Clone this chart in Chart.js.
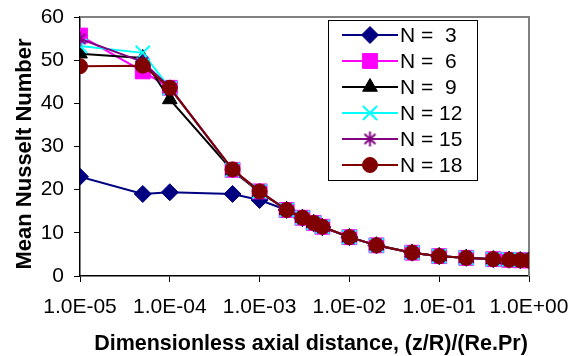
<!DOCTYPE html>
<html>
<head>
<meta charset="utf-8">
<script src="https://cdn.jsdelivr.net/npm/chart.js@4/dist/chart.umd.min.js"></script>
<style>
html,body{margin:0;padding:0;background:#fff;}
#wrap{width:569px;height:356px;position:relative;}
</style>
</head>
<body>
<div id="wrap"><canvas id="c" width="569" height="356"></canvas></div>
<script>
// ---- data ----
const xValues = [1e-5, 5e-5, 1e-4, 5e-4, 1e-3, 2e-3, 3e-3, 4e-3, 5e-3, 1e-2, 2e-2, 5e-2, 1e-1, 2e-1, 4e-1, 6e-1, 8e-1, 1];
const seriesLabels = ['N =  3', 'N =  6', 'N =  9', 'N = 12', 'N = 15', 'N = 18'];
const n3  = [23.0, 19.0, 19.4, 19.0, 17.6, 15.3, 13.4, 12.2, 11.3, 9.0, 7.1, 5.4, 4.6, 4.2, 3.9, 3.75, 3.65, 3.6];
const n6  = [55.7, 47.4, 43.6, 24.6, 19.6, 15.3, 13.5, 12.3, 11.4, 9.0, 7.1, 5.4, 4.6, 4.2, 3.9, 3.75, 3.65, 3.6];
const n9  = [51.5, 50.5, 40.9, 24.4, 19.4, 15.3, 13.5, 12.3, 11.4, 9.0, 7.1, 5.4, 4.6, 4.2, 3.9, 3.75, 3.65, 3.6];
const n12 = [53.3, 51.7, 43.5, 24.6, 19.6, 15.3, 13.5, 12.3, 11.4, 9.0, 7.1, 5.4, 4.6, 4.2, 3.9, 3.8, 3.75, 3.7];
const n15 = [54.9, 49.6, 43.7, 24.6, 19.6, 15.3, 13.5, 12.3, 11.4, 9.0, 7.1, 5.4, 4.6, 4.2, 3.9, 3.75, 3.65, 3.6];
const n18 = [48.6, 48.7, 43.6, 24.7, 19.6, 15.3, 13.5, 12.3, 11.4, 9.0, 7.1, 5.4, 4.6, 4.2, 3.9, 3.75, 3.65, 3.6];
const xTickValues = [1e-5, 1e-4, 1e-3, 1e-2, 1e-1, 1];
const xTickLabels = ['1.0E-05', '1.0E-04', '1.0E-03', '1.0E-02', '1.0E-01', '1.0E+00'];
const yTickValues = [0, 10, 20, 30, 40, 50, 60];
const xTitle = 'Dimensionless axial distance, (z/R)/(Re.Pr)';
const yTitle = 'Mean Nusselt Number';

const FONT = "'Liberation Sans', Arial, sans-serif";
const seriesValues = [n3, n6, n9, n12, n15, n18];
const colors = ['#000080', '#FF00FF', '#000000', '#00FFFF', '#800080', '#800000'];

// Excel-style asterisk marker (vertical bar + X)
function makeAsterisk(color) {
  const c = document.createElement('canvas');
  c.width = 17; c.height = 17;
  const g = c.getContext('2d');
  g.strokeStyle = color; g.lineWidth = 2; g.lineCap = 'butt';
  g.beginPath();
  g.moveTo(8.5, 1); g.lineTo(8.5, 16);
  g.moveTo(3, 3.5); g.lineTo(14, 13.5);
  g.moveTo(14, 3.5); g.lineTo(3, 13.5);
  g.stroke();
  return c;
}

const styles = ['rectRot', 'rect', 'triangle', 'crossRot', makeAsterisk('#800080'), 'circle'];
const radii = [8.5, 10.5, 8.5, 10, 8, 7.5];
const pbw = [1, 1, 1, 2, 2, 1];

const datasets = seriesValues.map((vals, i) => ({
  label: seriesLabels[i],
  data: vals.map((v, j) => ({x: xValues[j], y: v})),
  borderColor: colors[i],
  backgroundColor: colors[i],
  pointBackgroundColor: colors[i],
  pointBorderColor: colors[i],
  pointStyle: styles[i],
  pointRadius: radii[i],
  pointBorderWidth: pbw[i],
  borderWidth: 2,
  tension: 0,
  order: seriesValues.length - 1 - i
}));

const framePlugin = {
  id: 'frame',
  beforeDatasetsDraw(chart) {
    const {ctx, chartArea: a} = chart;
    ctx.save();
    ctx.strokeStyle = '#808080';
    ctx.lineWidth = 2;
    ctx.beginPath();
    ctx.moveTo(a.left, a.top);
    ctx.lineTo(a.right, a.top);
    ctx.lineTo(a.right, a.bottom);
    ctx.stroke();
    ctx.restore();
  }
};

const titlePlugin = {
  id: 'axisTitles',
  afterDraw(chart) {
    const ctx = chart.ctx;
    ctx.save();
    ctx.fillStyle = '#000';
    ctx.font = 'bold 21.5px ' + FONT;
    ctx.textAlign = 'center';
    ctx.textBaseline = 'alphabetic';
    ctx.fillText(xTitle, 311, 350);
    ctx.translate(31, 154);
    ctx.rotate(-Math.PI / 2);
    ctx.font = 'bold 22px ' + FONT;
    ctx.fillText(yTitle, 0, 0);
    ctx.restore();
  }
};

const legendPlugin = {
  id: 'boxLegend',
  afterDraw(chart) {
    const ctx = chart.ctx;
    const x0 = 328, y0 = 20, w = 149, h = 160;
    ctx.save();
    ctx.fillStyle = '#ffffff';
    ctx.fillRect(x0, y0, w, h);
    ctx.strokeStyle = '#000000';
    ctx.lineWidth = 1;
    ctx.strokeRect(x0 + 0.5, y0 + 0.5, w, h);
    chart.data.datasets.forEach((ds, i) => {
      const cy = y0 + 15 + i * 26;
      ctx.strokeStyle = ds.borderColor;
      ctx.lineWidth = 2;
      ctx.beginPath();
      ctx.moveTo(342, cy);
      ctx.lineTo(398, cy);
      ctx.stroke();
      ctx.fillStyle = ds.pointBackgroundColor;
      ctx.strokeStyle = ds.pointBorderColor;
      ctx.lineWidth = ds.pointBorderWidth;
      Chart.helpers.drawPoint(ctx, {pointStyle: ds.pointStyle, radius: ds.pointRadius, borderWidth: ds.pointBorderWidth, rotation: 0}, 370, cy);
      ctx.fillStyle = '#000000';
      ctx.font = '21px ' + FONT;
      ctx.textBaseline = 'middle';
      ctx.textAlign = 'left';
      ctx.fillText(ds.label, 400, cy + 1);
    });
    ctx.restore();
  }
};

new Chart(document.getElementById('c'), {
  type: 'line',
  data: {datasets},
  options: {
    responsive: false,
    animation: false,
    devicePixelRatio: 1,
    layout: {padding: {top: 17, right: 40, left: 0, bottom: 0}},
    plugins: {legend: {display: false}, tooltip: {enabled: false}},
    scales: {
      x: {
        type: 'logarithmic',
        min: 1e-5, max: 1,
        afterBuildTicks(scale) { scale.ticks = xTickValues.map(v => ({value: v})); },
        afterFit(scale) { scale.height = 80; scale.paddingLeft = 0; scale.paddingRight = 0; },
        ticks: {
          autoSkip: false, maxRotation: 0, minRotation: 0, padding: 13,
          color: '#000', font: {family: FONT, size: 21},
          callback(value) { const k = xTickValues.indexOf(value); return k >= 0 ? xTickLabels[k] : ''; }
        },
        grid: {display: true, drawOnChartArea: false, drawTicks: true, tickLength: 6, color: '#000', lineWidth: 1},
        border: {display: true, color: '#000', width: 1.5},
        title: {display: false}
      },
      y: {
        type: 'linear',
        min: 0, max: 60,
        afterBuildTicks(scale) { scale.ticks = yTickValues.map(v => ({value: v})); },
        afterFit(scale) { scale.width = 80; scale.paddingTop = 0; scale.paddingBottom = 0; },
        ticks: {padding: 10, color: '#000', font: {family: FONT, size: 21}},
        grid: {display: true, drawOnChartArea: false, drawTicks: true, tickLength: 6, color: '#000', lineWidth: 1},
        border: {display: true, color: '#000', width: 1.5},
        title: {display: false}
      }
    }
  },
  plugins: [framePlugin, titlePlugin, legendPlugin]
});
</script>
</body>
</html>
